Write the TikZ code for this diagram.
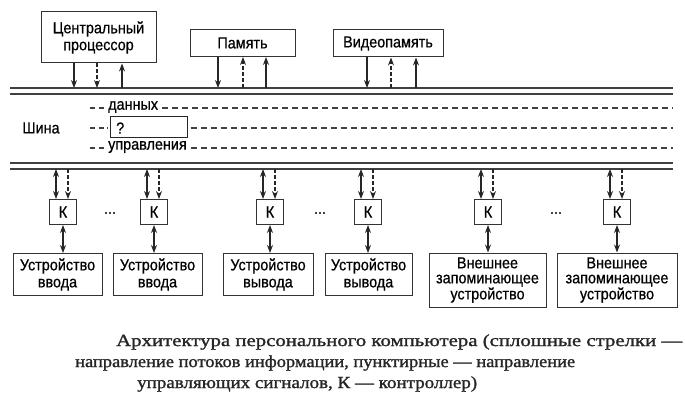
\documentclass[tikz,border=0pt]{standalone}
\usepackage{fontspec}
\setmainfont[FakeStretch=0.9,FakeBold=0.6]{Liberation Sans}
\newfontfamily\capfont[FakeStretch=1.0,FakeBold=1.2]{Liberation Serif}
\usetikzlibrary{arrows.meta}
\begin{document}
\begin{tikzpicture}[x=1pt,y=-1pt,
  box/.style={draw=black!80, line width=1pt, align=center, inner sep=0pt,
    font=\fontsize{16}{17}\selectfont},
  lbl/.style={inner sep=0pt, font=\fontsize{16}{17}\selectfont},
  kbox/.style={box, minimum width=27pt, minimum height=25pt},
  dev/.style={box, minimum width=89pt, minimum height=42pt},
  ext/.style={box, minimum width=117pt, minimum height=54pt, font=\fontsize{16}{15}\selectfont},
  busline/.style={line width=1.5pt, draw=black!75},
  dline/.style={line width=1.3pt, draw=black!75, dash pattern=on 6pt off 4pt},
  lead/.style={line width=1.3pt, draw=black!75, dash pattern=on 5pt off 3.5pt},
  arr/.style={line width=1.1pt, draw=black!85, -{Stealth[length=8pt,width=6pt]}},
  darr/.style={arr, dash pattern=on 4pt off 2pt},
  barr/.style={line width=1.1pt, draw=black!85, {Stealth[length=8pt,width=6pt]}-{Stealth[length=8pt,width=6pt]}},
  captxt/.style={inner sep=0pt, anchor=west, font=\capfont\fontsize{17}{18}\selectfont, text=black!85}
]
\useasboundingbox[fill=white] (0,0) rectangle (685,401);

% top units
\node[box, minimum width=115pt, minimum height=51pt] (cpu) at (98.5,37.5) {Центральный\\процессор};
\node[box, minimum width=105pt, minimum height=27pt] (mem) at (242.5,43) {Память};
\node[box, minimum width=110pt, minimum height=27pt] (vid) at (388,43.5) {Видеопамять};

% bus lines
\coordinate (t1a) at (10,88);  \coordinate (t1b) at (673,88);
\coordinate (t2a) at (10,94);  \coordinate (t2b) at (673,94);
\coordinate (b1a) at (10,163); \coordinate (b1b) at (673,163);
\coordinate (b2a) at (10,169); \coordinate (b2b) at (673,169);
\draw[busline] (t1a) -- (t1b);
\draw[busline] (t2a) -- (t2b);
\draw[busline] (b1a) -- (b1b);
\draw[busline] (b2a) -- (b2b);

% bus label and dashed lines
\node[lbl] (shina) at (41,128) {Шина};
\node[lbl, anchor=west] (dan) at (108,107) {данных};
\node[lbl, anchor=west] (upr) at (108,147) {управления};
\node[draw=black!85, line width=1pt, minimum width=77pt, minimum height=21pt, inner sep=0pt] (q) at (148.5,127.5) {};
\node[lbl, anchor=west] (qm) at (116,128) {?};
\coordinate (d1s) at (90,108);  \coordinate (d1e) at (673,108);
\coordinate (d2s) at (90,128);  \coordinate (d2e) at (673,128);
\coordinate (d3s) at (90,148);  \coordinate (d3e) at (673,148);
\draw[lead] (d1s) -- ([xshift=-3pt]dan.west |- d1s);
\draw[dline] ([xshift=4pt]dan.east |- d1s) -- (d1e);
\draw[lead] (d2s) -- ([xshift=-2pt]q.west |- d2s);
\draw[dline] ([xshift=3pt]q.east |- d2s) -- (d2e);
\draw[lead] (d3s) -- ([xshift=-3pt]upr.west |- d3s);
\draw[dline] ([xshift=4pt]upr.east |- d3s) -- (d3e);

% top arrows
\coordinate (c1) at (74,88);  \coordinate (c2) at (97,88);  \coordinate (c3) at (122,88);
\coordinate (m1) at (218,88); \coordinate (m2) at (243,88); \coordinate (m3) at (266,88);
\coordinate (v1) at (367,88); \coordinate (v2) at (391,88); \coordinate (v3) at (416,88);
\draw[arr]  (cpu.south -| c1) -- (c1);
\draw[darr] (cpu.south -| c2) -- (c2);
\draw[arr]  (c3) -- (cpu.south -| c3);
\draw[arr]  (mem.south -| m1) -- (m1);
\draw[darr] (m2) -- (mem.south -| m2);
\draw[arr]  (m3) -- (mem.south -| m3);
\draw[arr]  (vid.south -| v1) -- (v1);
\draw[darr] (v2) -- (vid.south -| v2);
\draw[arr]  (v3) -- (vid.south -| v3);

% controllers
\foreach \n/\x in {k1/63, k2/154, k3/270, k4/368, k5/488, k6/617}{
  \node[kbox] (\n) at (\x,212) {К};
  \draw[barr] ([xshift=-7pt]\n.north |- b2a) -- ([xshift=-7pt]\n.north);
  \draw[darr] ([xshift=5pt]\n.north |- b2a) -- ([xshift=5pt]\n.north);
}
\node[lbl] (dots1) at (110,213) {...};
\node[lbl] (dots2) at (320,213) {...};
\node[lbl] (dots3) at (556,213) {...};

% devices
\node[dev] (in1) at (57.5,274.5) {Устройство\\ввода};
\node[dev] (in2) at (157.5,274.5) {Устройство\\ввода};
\node[dev, minimum width=90pt] (out1) at (268,274.5) {Устройство\\вывода};
\node[dev, minimum width=87pt] (out2) at (368.5,274.5) {Устройство\\вывода};
\node[ext] (st1) at (487.5,280) {Внешнее\\запоминающее\\устройство};
\node[ext, minimum width=120pt] (st2) at (617,280) {Внешнее\\запоминающее\\устройство};
\draw[barr] (k1.south) -- (k1.south |- in1.north);
\draw[barr] (k2.south) -- (k2.south |- in2.north);
\draw[barr] (k3.south) -- (k3.south |- out1.north);
\draw[barr] (k4.south) -- (k4.south |- out2.north);
\draw[barr] (k5.south) -- (k5.south |- st1.north);
\draw[barr] (k6.south) -- (k6.south |- st2.north);

% caption
\node[captxt] (cap1) at (116,342) {\resizebox{566pt}{\height}{Архитектура персонального компьютера (сплошные стрелки —}};
\node[captxt] (cap2) at (75,363) {\resizebox{500pt}{\height}{направление потоков информации, пунктирные — направление}};
\node[captxt] (cap3) at (137,384) {\resizebox{340pt}{\height}{управляющих сигналов, К — контроллер)}};
\end{tikzpicture}
\end{document}
